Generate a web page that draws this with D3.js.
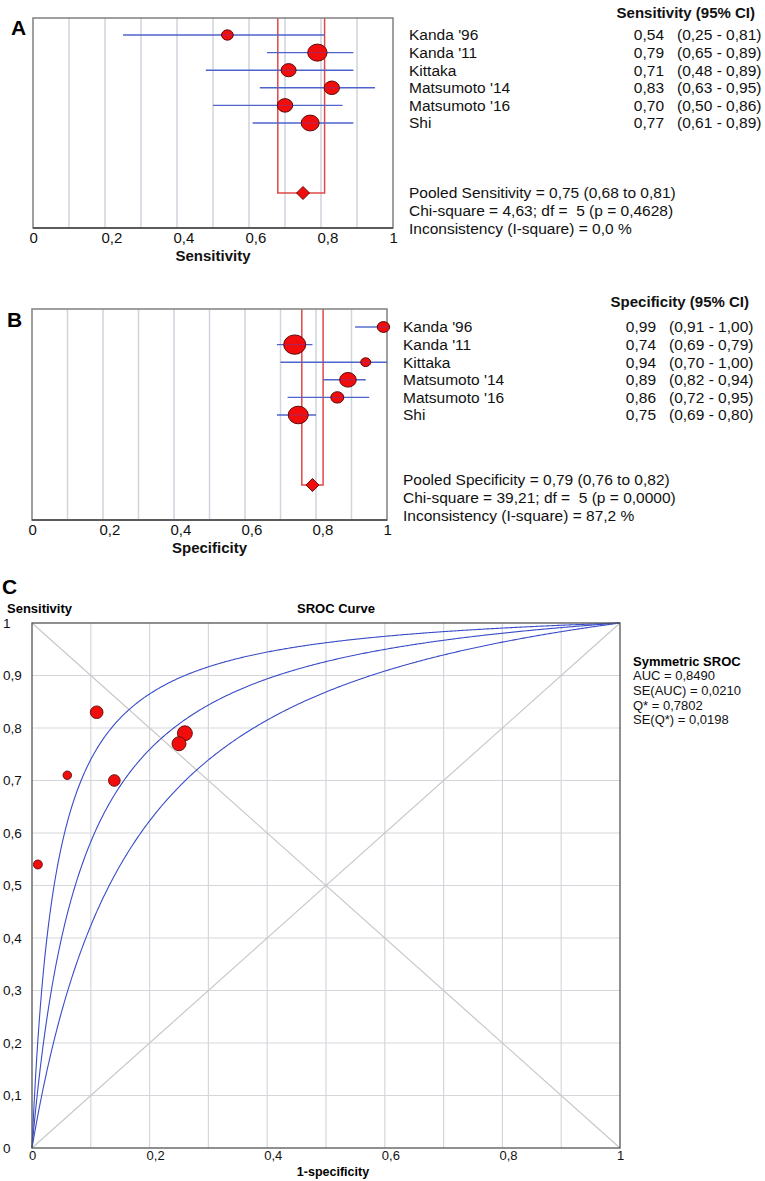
<!DOCTYPE html>
<html>
<head>
<meta charset="utf-8">
<script src="https://cdn.jsdelivr.net/npm/d3@7"></script>
<style>
	body { margin: 0; background: #fff; }
	svg { display: block; font-family: "Liberation Sans", Arial, sans-serif; }
</style>
</head>
<body>
<div id="chart"></div>
<script>
const studies = ["Kanda '96", "Kanda '11", "Kittaka", "Matsumoto '14", "Matsumoto '16", "Shi"];

const sens = [0.54, 0.79, 0.71, 0.83, 0.70, 0.77];
const sensLo = [0.25, 0.65, 0.48, 0.63, 0.50, 0.61];
const sensHi = [0.81, 0.89, 0.89, 0.95, 0.86, 0.89];
const sensWeight = [34, 94, 56, 59, 59, 81];

const spec = [0.99, 0.74, 0.94, 0.89, 0.86, 0.75];
const specLo = [0.91, 0.69, 0.70, 0.82, 0.72, 0.69];
const specHi = [1.00, 0.79, 1.00, 0.94, 0.95, 0.80];
const specWeight = [38, 121, 25, 69, 42, 100];

const srocWeight = [20, 56, 18, 40, 34, 49];

// pooled estimate, lower, upper
const pooledSens = [0.75, 0.68, 0.81];
const pooledSpec = [0.79, 0.76, 0.82];

const sensStats = [
	"Pooled Sensitivity = 0,75 (0,68 to 0,81)",
	"Chi-square = 4,63; df =  5 (p = 0,4628)",
	"Inconsistency (I-square) = 0,0 %"
];
const specStats = [
	"Pooled Specificity = 0,79 (0,76 to 0,82)",
	"Chi-square = 39,21; df =  5 (p = 0,0000)",
	"Inconsistency (I-square) = 87,2 %"
];
const srocStats = ["AUC = 0,8490", "SE(AUC) = 0,0210", "Q* = 0,7802", "SE(Q*) = 0,0198"];

// Q* of the symmetric SROC curve and of its upper/lower bands
const srocQ = [0.835, 0.7802, 0.72];

const forestTicks = [0, 0.2, 0.4, 0.6, 0.8, 1];
const gridTicks = [0.1, 0.2, 0.3, 0.4, 0.5, 0.6, 0.7, 0.8, 0.9];
const srocXTicks = [0, 0.2, 0.4, 0.6, 0.8, 1];
const srocYTicks = [0, 0.1, 0.2, 0.3, 0.4, 0.5, 0.6, 0.7, 0.8, 0.9, 1];

const W = 765, H = 1181;
const comma = d => (d === 0 || d === 1) ? String(d) : d.toFixed(1).replace(".", ",");
const fmt2 = d => d.toFixed(2).replace(".", ",");

const svg = d3.select("#chart").append("svg")
	.attr("width", W)
	.attr("height", H);

svg.append("rect").attr("width", W).attr("height", H).attr("fill", "#fff");

const rScale = d3.scaleSqrt().domain([0, 100]).range([0, 10]);

function forest(o) {
	const x = d3.scaleLinear().domain([0, 1]).range([o.left, o.right]);
	const y = d3.scalePoint().domain(studies).range([o.row0, o.row0 + 17.6 * (studies.length - 1)]);
	const g = svg.append("g");

	// grid
	g.selectAll(".grid").data(gridTicks).join("line")
		.attr("x1", d => x(d)).attr("x2", d => x(d))
		.attr("y1", o.top).attr("y2", o.bottom)
		.attr("stroke", "#cfd5dc").attr("stroke-width", 1.5);

	// pooled CI box
	const p = o.pooled;
	g.append("path")
		.attr("d", `M${x(p[1])},${o.top}V${o.diamondY}H${x(p[2])}V${o.top}`)
		.attr("fill", "none")
		.attr("stroke", "#e04848")
		.attr("stroke-width", 1.5);

	// frame
	g.append("rect")
		.attr("x", o.left).attr("y", o.top)
		.attr("width", o.right - o.left).attr("height", o.bottom - o.top)
		.attr("fill", "none").attr("stroke", "#808080").attr("stroke-width", 1.5);
	g.append("line")
		.attr("x1", o.left).attr("x2", o.right)
		.attr("y1", o.bottom).attr("y2", o.bottom)
		.attr("stroke", "#444").attr("stroke-width", 1.5);

	// CI lines
	g.selectAll(".ci").data(studies).join("line")
		.attr("x1", (d, i) => x(o.lo[i])).attr("x2", (d, i) => x(o.hi[i]))
		.attr("y1", d => y(d)).attr("y2", d => y(d))
		.attr("stroke", "#4f63cc").attr("stroke-width", 1.4);

	// markers
	g.selectAll(".pt").data(studies).join("ellipse")
		.attr("cx", (d, i) => x(o.est[i]))
		.attr("cy", d => y(d))
		.attr("rx", (d, i) => rScale(o.weight[i]))
		.attr("ry", (d, i) => rScale(o.weight[i]) * 0.88)
		.attr("fill", "#f20d0d").attr("stroke", "#5a0a0a").attr("stroke-width", 1);

	// CI line showing faintly through the markers
	g.selectAll(".ci2").data(studies).join("line")
		.attr("x1", (d, i) => x(o.est[i]) - rScale(o.weight[i]) + 1)
		.attr("x2", (d, i) => x(o.est[i]) + rScale(o.weight[i]) - 1)
		.attr("y1", d => y(d)).attr("y2", d => y(d))
		.attr("stroke", "#7a3a9a").attr("stroke-width", 1).attr("opacity", 0.6);

	// pooled diamond
	const cx = x(p[0]), cy = o.diamondY, s = 6.5;
	g.append("path")
		.attr("d", `M${cx - s},${cy}L${cx},${cy - s}L${cx + s},${cy}L${cx},${cy + s}Z`)
		.attr("fill", "#f20d0d").attr("stroke", "#6a0a0a").attr("stroke-width", 1);

	// axis
	g.append("g")
		.attr("transform", `translate(0,${o.bottom})`)
		.call(d3.axisBottom(x).tickValues(forestTicks).tickFormat(comma).tickSize(0).tickPadding(4))
		.call(ax => ax.select(".domain").remove())
		.selectAll("text")
		.attr("dy", "0.71em")
		.attr("x", -4)
		.attr("text-anchor", "start")
		.style("fill", "#111")
		.style("font-size", "15px")
		.style("font-family", "Liberation Sans, Arial, sans-serif");

	g.append("text")
		.attr("x", (o.left + o.right) / 2).attr("y", o.titleY)
		.attr("text-anchor", "middle").attr("dy", "0.35em")
		.style("font-size", "15px").style("font-weight", "bold").style("fill", "#111")
		.text(o.title);

	g.append("text")
		.attr("x", o.letterX).attr("y", o.letterY)
		.style("font-size", "21px").style("font-weight", "bold").style("fill", "#000")
		.text(o.letter);

	// right-side table
	g.append("text")
		.attr("x", o.headEnd).attr("y", o.headY).attr("dy", "0.35em")
		.attr("text-anchor", "end")
		.style("font-size", "15px").style("font-weight", "bold").style("fill", "#111")
		.text(o.title + " (95% CI)");

	const t = g.append("g").style("font-size", "15.5px").style("fill", "#111");
	t.selectAll(".nm").data(studies).join("text")
		.attr("x", o.nameX).attr("y", d => y(d)).attr("dy", "0.35em")
		.text(d => d);
	t.selectAll(".val").data(studies).join("text")
		.attr("x", o.valEnd).attr("y", d => y(d)).attr("dy", "0.35em")
		.attr("text-anchor", "end")
		.text((d, i) => fmt2(o.est[i]));
	t.selectAll(".cis").data(studies).join("text")
		.attr("x", o.ciX).attr("y", d => y(d)).attr("dy", "0.35em")
		.text((d, i) => `(${fmt2(o.lo[i])} - ${fmt2(o.hi[i])})`);
	t.selectAll(".st").data(o.stats).join("text")
		.attr("x", o.nameX).attr("y", (d, i) => o.statY + i * 17.6).attr("dy", "0.35em")
		.style("white-space", "pre")
		.text(d => d);
}

forest({
	letter: "A", letterX: 11, letterY: 35,
	left: 33, right: 393, top: 18, bottom: 228,
	row0: 35, diamondY: 193, titleY: 256,
	est: sens, lo: sensLo, hi: sensHi, weight: sensWeight, pooled: pooledSens,
	title: "Sensitivity", stats: sensStats,
	nameX: 409, valEnd: 664, ciX: 677, headEnd: 755, headY: 13, statY: 193
});

forest({
	letter: "B", letterX: 7, letterY: 327,
	left: 32, right: 387, top: 309, bottom: 520,
	row0: 327, diamondY: 485, titleY: 548,
	est: spec, lo: specLo, hi: specHi, weight: specWeight, pooled: pooledSpec,
	title: "Specificity", stats: specStats,
	nameX: 403, valEnd: 656, ciX: 669, headEnd: 749, headY: 302, statY: 480
});

// ---- Panel C: SROC ----
const C = { left: 32, right: 620, top: 623, bottom: 1148 };
const xC = d3.scaleLinear().domain([0, 1]).range([C.left, C.right]);
const yC = d3.scaleLinear().domain([0, 1]).range([C.bottom, C.top]);
const gc = svg.append("g");

gc.selectAll(".vg").data(gridTicks).join("line")
	.attr("x1", d => xC(d)).attr("x2", d => xC(d))
	.attr("y1", C.top).attr("y2", C.bottom)
	.attr("stroke", "#d3d7dc").attr("stroke-width", 1.2);
gc.selectAll(".hg").data(gridTicks).join("line")
	.attr("x1", C.left).attr("x2", C.right)
	.attr("y1", d => yC(d)).attr("y2", d => yC(d))
	.attr("stroke", "#d3d7dc").attr("stroke-width", 1.2);

// diagonals
gc.append("line")
	.attr("x1", xC(0)).attr("y1", yC(0)).attr("x2", xC(1)).attr("y2", yC(1))
	.attr("stroke", "#c8c8c8").attr("stroke-width", 1.2);
gc.append("line")
	.attr("x1", xC(0)).attr("y1", yC(1)).attr("x2", xC(1)).attr("y2", yC(0))
	.attr("stroke", "#c8c8c8").attr("stroke-width", 1.2);

// symmetric SROC curves: logit(TPR) = 2*logit(Q) + logit(FPR)
const fprGrid = d3.range(0, 1.0001, 0.002).map(v => Math.min(1, Math.max(0, v)));
const srocLine = d3.line().x(d => xC(d[0])).y(d => yC(d[1]));
srocQ.forEach(q => {
	const a = 2 * Math.log(q / (1 - q));
	const pts = fprGrid.map(f => {
		if (f <= 0) return [0, 0];
		if (f >= 1) return [1, 1];
		return [f, 1 / (1 + Math.exp(-a) * (1 - f) / f)];
	});
	gc.append("path").attr("d", srocLine(pts))
		.attr("fill", "none").attr("stroke", "#3a4cc8").attr("stroke-width", 1.1);
});

// frame
gc.append("rect")
	.attr("x", C.left).attr("y", C.top)
	.attr("width", C.right - C.left).attr("height", C.bottom - C.top)
	.attr("fill", "none").attr("stroke", "#555").attr("stroke-width", 1.3);

// study points
gc.selectAll(".sp").data(studies).join("circle")
	.attr("cx", (d, i) => xC(1 - spec[i]))
	.attr("cy", (d, i) => yC(sens[i]))
	.attr("r", (d, i) => rScale(srocWeight[i]))
	.attr("fill", "#f20d0d").attr("stroke", "#5a0a0a").attr("stroke-width", 0.9);

gc.append("g")
	.attr("transform", `translate(0,${C.bottom})`)
	.call(d3.axisBottom(xC).tickValues(srocXTicks).tickFormat(comma).tickSize(0).tickPadding(3))
	.call(ax => ax.select(".domain").remove())
	.selectAll("text")
	.attr("dy", "0.71em")
	.attr("x", -3.5)
	.attr("text-anchor", "start")
	.style("fill", "#111").style("font-size", "13px")
	.style("font-family", "Liberation Sans, Arial, sans-serif");

gc.append("g")
	.call(d3.axisLeft(yC).tickValues(srocYTicks).tickFormat(comma).tickSize(0))
	.call(ax => ax.select(".domain").remove())
	.selectAll("text")
	.attr("x", 3).attr("text-anchor", "start")
	.style("fill", "#111").style("font-size", "13.5px")
	.style("font-family", "Liberation Sans, Arial, sans-serif");

gc.append("text").attr("x", 2).attr("y", 594)
	.style("font-size", "21px").style("font-weight", "bold").text("C");
gc.append("text").attr("x", 7).attr("y", 608).attr("dy", "0.35em")
	.style("font-size", "13px").style("font-weight", "bold").text("Sensitivity");
gc.append("text").attr("x", 336).attr("y", 608).attr("dy", "0.35em")
	.attr("text-anchor", "middle")
	.style("font-size", "13px").style("font-weight", "bold").text("SROC Curve");
gc.append("text").attr("x", 333).attr("y", 1172).attr("dy", "0.35em")
	.attr("text-anchor", "middle")
	.style("font-size", "12.5px").style("font-weight", "bold").text("1-specificity");

gc.append("text").attr("x", 633).attr("y", 661).attr("dy", "0.35em")
	.style("font-size", "13px").style("font-weight", "bold").text("Symmetric SROC");
gc.selectAll(".ls").data(srocStats).join("text")
	.attr("x", 633).attr("y", (d, i) => 675.5 + i * 14.8).attr("dy", "0.35em")
	.style("font-size", "13px").style("fill", "#111")
	.text(d => d);
</script>
</body>
</html>
